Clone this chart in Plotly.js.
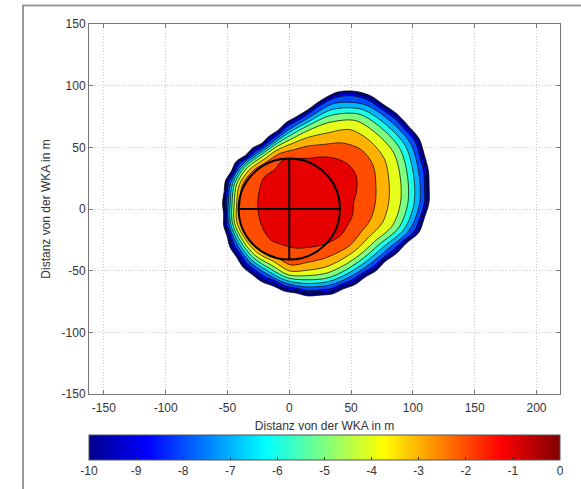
<!DOCTYPE html>
<html><head><meta charset="utf-8">
<script src="https://cdn.plot.ly/plotly-3.0.1.min.js"></script>
<style>html,body{margin:0;padding:0;background:#fff}#chart{width:581px;height:489px}</style>
</head><body><div id="chart"></div>
<script>
// ---- data ----
const xTicks = [-150,-100,-50,0,50,100,150,200];
const xTickLabels = ['-150','-100','-50','0','50','100','150','200'];
const yTicks = [-150,-100,-50,0,50,100,150];
const yTickLabels = ['-150','-100','-50','0','50','100','150'];
const cbTicks = [-10,-9,-8,-7,-6,-5,-4,-3,-2,-1,0];
const cbTickLabels = ['-10','-9','-8','-7','-6','-5','-4','-3','-2','-1','0'];
const levels = [-10,-9,-8,-7,-6,-5,-4,-3,-2,-1];
// contour boundaries: radius (m) from a centre point, at the listed angles (deg)
const centre = [15,5];
const anglesFine = [0,7.5,15,22.5,30,37.5,45,52.5,60,67.5,75,82.5,90,97.5,105,112.5,120,127.5,135,142.5,150,157.5,165,172.5,
                    180,187.5,195,202.5,210,217.5,225,232.5,240,247.5,255,262.5,270,277.5,285,292.5,300,307.5,315,322.5,330,337.5,345,352.5];
const angles = [0,15,30,45,60,75,90,105,120,135,150,165,180,195,210,225,240,255,270,285,300,315,330,345];
const r_m10 = [98,99,101,102,104,102.5,102,100.5,100.5,98,93,84,75.5,70.5,67.5,63.5,62.5,61,63,63.5,67,67,69,68.3,
               69,68.7,70.5,70.7,72.5,72.5,74,73.5,74,73,74,73.8,75.5,75.5,76.5,75.5,76.5,76,78,78.5,82.5,86,93,95];
const r_m9  = [96,97,99,100,102,100.5,100,98.5,98.5,96,91,82,73.8,69,66,62,61,59.5,61.5,62,65.4,65.5,67.5,66.8,
               67.5,67.2,69,69,70.5,70.5,71.8,71.3,71.7,70.8,71.8,71.5,73,73,74,73.2,74.2,73.8,76,76.5,80.5,84,91,93];
const r_m8  = [94.3,95.2,97,98,100,98.5,98,96.5,96.5,94,88.5,80,71.8,67,64,60.3,59.2,58,59.5,60.5,63.7,64,66,65.5,
               66,66,67.6,67.5,68.6,68.5,69.6,69.1,69.3,68.6,69.8,69.8,71.2,71.2,72,71.3,72,72,73.8,75,78.3,82.5,89,91.5];
const r_m7  = [90.5,93,96,94,92,83.5,68.5,61.1,57,57.5,61.7,64.3,64.3,66.1,66.4,67.1,66.5,67.5,68.2,69,69,70.5,74.7,85];
const r_m6  = [86,88.5,91.5,89.5,87.5,78.5,65.5,59,55.5,56,60.2,62.8,62.8,64.7,64.6,64.9,64,65.3,65.4,66,65.8,67,71,81];
const r_m5  = [81,83.5,86.5,85,83,73.5,62.5,56.4,54,54.5,58.7,61.3,61.3,63.2,62.8,62.7,61.5,63,62.4,63,62.5,63.5,67,76.5];
const r_m4  = [75,77.5,80.5,79,77,67.5,58.5,53.3,52,52.5,56.7,59.5,59.5,61.5,60.8,60.3,58.5,60.5,59,59,58.5,59.5,62.5,71];
const r_m3  = [65.4,68,71.5,71,68.5,58.5,53,49.7,49.5,50,54.2,57.3,57.5,59.5,58.6,57.5,55,57.2,54.6,54,53.5,54.5,56.5,62.5];
const r_m2  = [54.6,57,61,61,56,49,46,44.5,46,47,51.5,54.8,55,57,56.4,54.5,51,52.2,48.2,47,47,48.5,49,52.5];
const r_m1  = [37,41,45,45,42,38.5,36,37.3,40,38,41,40.5,40.5,41,42,42.5,39.5,38,36.2,36,36.5,37.5,37,37.5];
const rotorRadius = 41;

// ---- styles ----
const bandColors = ['#000080','#0000E6','#004DFF','#00B3FF','#1AFFE6','#80FF80','#E6FF1A','#FFB300','#FF4D00','#E60000'];
const jet = [[0,'rgb(0,0,143)'],[0.125,'rgb(0,0,255)'],[0.375,'rgb(0,255,255)'],[0.625,'rgb(255,255,0)'],[0.875,'rgb(255,0,0)'],[1,'rgb(128,0,0)']];
const radiiByLevel = [r_m10,r_m9,r_m8,r_m7,r_m6,r_m5,r_m4,r_m3,r_m2,r_m1];
const anglesByLevel = [anglesFine,anglesFine,anglesFine,angles,angles,angles,angles,angles,angles,angles];

const traces = levels.map((lv, k) => {
  const r = radiiByLevel[k], ang = anglesByLevel[k];
  const xs = ang.map((a, i) => centre[0] + r[i] * Math.cos(a * Math.PI / 180));
  const ys = ang.map((a, i) => centre[1] + r[i] * Math.sin(a * Math.PI / 180));
  xs.push(xs[0]); ys.push(ys[0]);
  return {type:'scatter', mode:'lines', x:xs, y:ys, fill:'toself', fillcolor:bandColors[k],
    line:{color:'#000', width:0.7, shape:'spline', smoothing:0.9}, hoverinfo:'skip', name:String(lv)};
});

traces.push({type:'scatter', mode:'markers', x:[0], y:[0], hoverinfo:'skip',
  marker:{size:1, opacity:0, color:[-5], cmin:cbTicks[0], cmax:cbTicks[cbTicks.length-1], colorscale:jet, showscale:true,
    colorbar:{orientation:'h', x:0.5, xanchor:'center', xref:'paper', len:1, lenmode:'fraction',
      y:-0.112, yanchor:'top', yref:'paper', thickness:25, thicknessmode:'pixels', xpad:0, ypad:0,
      outlinewidth:1, outlinecolor:'#555', tickmode:'array', tickvals:cbTicks, ticktext:cbTickLabels,
      ticks:'inside', ticklen:3, tickcolor:'#333', tickfont:{size:12, color:'#333'}}}});

const axisCommon = {ticks:'inside', ticklen:4, tickcolor:'#777', showline:true, linecolor:'#777', linewidth:1,
  mirror:'ticks', showgrid:true, gridcolor:'#c8c8c8', griddash:'1px,2px', gridwidth:1, zeroline:false,
  tickfont:{size:12, color:'#333'}};

const layout = {
  width:581, height:489, margin:{l:89, r:21, t:24, b:95, pad:0, autoexpand:false},
  paper_bgcolor:'#fff', plot_bgcolor:'#fff', showlegend:false,
  font:{family:'"Liberation Sans", Arial, sans-serif', size:12, color:'#333'},
  xaxis:Object.assign({}, axisCommon, {range:[-162,219], tickmode:'array', tickvals:xTicks, ticktext:xTickLabels,
    ticklabelstandoff:3, title:{text:'Distanz von der WKA in m', font:{size:12, color:'#333'}, standoff:7}}),
  yaxis:Object.assign({}, axisCommon, {range:[-150,150], tickmode:'array', tickvals:yTicks, ticktext:yTickLabels,
    title:{text:'Distanz von der WKA in m', font:{size:12, color:'#333'}, standoff:8}}),
  shapes:[
    {type:'circle', xref:'x', yref:'y', x0:-rotorRadius, x1:rotorRadius, y0:-rotorRadius, y1:rotorRadius, line:{color:'#000', width:2}},
    {type:'line', xref:'x', yref:'y', x0:-rotorRadius, x1:rotorRadius, y0:0, y1:0, line:{color:'#000', width:2}},
    {type:'line', xref:'x', yref:'y', x0:0, x1:0, y0:-rotorRadius, y1:rotorRadius, line:{color:'#000', width:2}},
    {type:'rect', xref:'paper', yref:'paper', x0:(23-89)/471, x1:1.2, y0:-0.5, y1:(394.5-6)/370, line:{color:'#9a9a9a', width:2}, fillcolor:'rgba(0,0,0,0)'}
  ]
};

Plotly.newPlot('chart', traces, layout, {staticPlot:true, displayModeBar:false});
</script>
</body></html>
